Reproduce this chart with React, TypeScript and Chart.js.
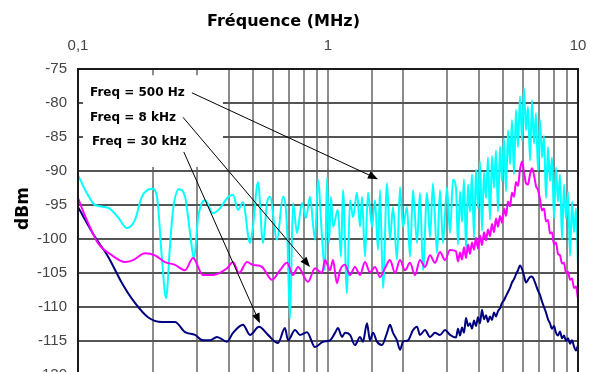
import React, { useEffect, useRef } from "react";
import { Chart, registerables } from "chart.js";

Chart.register(...registerables);

// ---------- data ----------
const xTickValues = [0.1, 1, 10];
const xTickLabels = ["0,1", "1", "10"];
const yMin = -120;
const yMax = -75;
const yStep = 5;

const xTitle = "Fréquence (MHz)";
const yTitle = "dBm";

const noteLabels = ["Freq = 500 Hz", "Freq = 8 kHz", "Freq = 30 kHz"];

// high frequency sample grid (MHz), shared by the three traces
const hfFreq = [
  3.251, 3.311, 3.373, 3.436, 3.499, 3.565, 3.631, 3.698, 3.767, 3.837,
  3.908, 3.981, 4.055, 4.13, 4.207, 4.285, 4.365, 4.446, 4.529, 4.613,
  4.699, 4.786, 4.875, 4.966, 5.058, 5.152, 5.248, 5.346, 5.445, 5.546,
  5.649, 5.754, 5.861, 5.97, 6.081, 6.194, 6.31, 6.427, 6.546, 6.668,
  6.792, 6.918, 7.047, 7.178, 7.311, 7.447, 7.586, 7.727, 7.87, 8.017,
  8.166, 8.318, 8.472, 8.63, 8.79, 8.954, 9.12, 9.29, 9.462, 9.638,
  9.817, 10,
];

// Freq = 500 Hz (cyan)
const cyanFreq = [
  0.1, 0.1076, 0.117, 0.132, 0.1445, 0.157, 0.169, 0.18, 0.198, 0.207,
  0.2168, 0.225, 0.2333, 0.24, 0.2535, 0.268, 0.2805, 0.291, 0.302, 0.313,
  0.3221, 0.3467, 0.3698, 0.3945, 0.4169, 0.4365, 0.4571, 0.4875, 0.5012, 0.5248,
  0.5495, 0.5702, 0.5861, 0.6252, 0.6607, 0.6855, 0.7047, 0.7244, 0.7516, 0.787,
  0.8166, 0.8472, 0.8872, 0.912, 0.9462, 0.9727,
  0.9908, 1.009, 1.028, 1.047, 1.096, 1.127, 1.148, 1.191, 1.225, 1.259,
  1.306, 1.343, 1.368, 1.406, 1.445, 1.5, 1.542, 1.585, 1.614, 1.66,
  1.722, 1.77, 1.82, 1.888, 1.941, 1.995, 2.07, 2.128, 2.188, 2.27,
  2.333, 2.399, 2.489, 2.559, 2.63, 2.729, 2.805, 2.884, 2.992, 3.076,
  3.162,
  ...hfFreq,
];
const cyanDbm = [
  -90.6, -93.0, -95.0, -95.4, -96.8, -98.4, -97.2, -93.8, -92.6, -93.8,
  -103.0, -108.7, -101.0, -95.7, -92.7, -93.8, -99.0, -102.9, -97.0, -94.7,
  -94.3, -96.2, -95.5, -94.0, -93.5, -95.7, -94.6, -100.6, -98.2, -91.6,
  -100.6, -94.7, -93.8, -100.1, -93.8, -98.2, -111.7, -94.7, -99.1, -94.7,
  -96.9, -93.8, -100.1, -91.3, -99.7, -104.6,
  -91.0, -100.6, -93.8, -98.2, -95.7, -102.6, -92.8, -108.0, -94.3, -96.8,
  -93.2, -98.2, -93.8, -102.6, -93.2, -98.2, -94.3, -101.6, -92.8, -107.2,
  -91.8, -100.1, -95.3, -103.1, -92.4, -98.2, -95.3, -102.6, -92.8, -100.6,
  -93.2, -104.6, -93.2, -99.7, -91.8, -102.1, -92.8, -100.6, -92.4, -99.1,
  -91.3,
  -92.5, -100.8, -93.0, -97.5, -91.2, -101.5, -92.0, -96.0, -90.5, -99.8,
  -89.8, -95.5, -88.6, -98.8, -90.2, -94.0, -88.0, -97.2, -87.8, -92.5,
  -87.0, -96.0, -86.4, -91.5, -85.2, -93.0, -84.0, -89.0, -82.5, -90.5,
  -81.0, -86.5, -79.0, -85.5, -77.8, -84.0, -80.5, -88.5, -79.6, -86.0,
  -81.5, -90.0, -82.5, -88.0, -84.8, -94.0, -86.5, -91.5, -88.0, -97.0,
  -89.5, -94.5, -90.5, -100.0, -92.0, -97.0, -93.0, -102.5, -94.5, -99.0,
  -95.5, -104.0,
];

// Freq = 8 kHz (magenta)
const magentaFreq = [
  0.1, 0.1096, 0.1202, 0.1368, 0.1542, 0.166, 0.1854, 0.2032, 0.2228, 0.2443,
  0.268, 0.2884, 0.3162, 0.3467, 0.3945, 0.4169, 0.4406, 0.4742, 0.5012, 0.5445,
  0.597, 0.6427, 0.6855, 0.7244, 0.7586, 0.8318, 0.8872, 0.9462, 0.973, 1.019,
  1.047, 1.086, 1.117, 1.169, 1.225, 1.282, 1.343, 1.406, 1.472, 1.542,
  1.614, 1.69, 1.77, 1.854, 1.941, 2.032, 2.128, 2.228, 2.333, 2.443,
  2.559, 2.679, 2.805, 2.938, 3.076,
  ...hfFreq,
];
const magentaDbm = [
  -94.0, -97.6, -100.6, -102.4, -103.4, -103.1, -102.1, -102.4, -103.4, -103.8,
  -104.6, -102.8, -105.3, -105.3, -104.3, -103.4, -105.0, -103.4, -103.8, -104.1,
  -106.0, -104.6, -103.5, -105.3, -104.1, -106.3, -104.3, -105.0, -103.1, -104.6,
  -103.1, -106.5, -104.6, -103.8, -105.3, -104.1, -105.3, -103.4, -104.9, -104.1,
  -105.6, -104.3, -103.1, -105.0, -103.1, -104.6, -103.5, -105.3, -103.1, -104.1,
  -102.4, -103.5, -101.9, -103.1, -101.6,
  -101.8, -103.3, -102.0, -103.0, -101.2, -102.8, -100.8, -102.2, -100.5, -101.6,
  -99.8, -101.4, -99.5, -100.9, -99.0, -100.2, -98.6, -99.6, -97.8, -99.0,
  -97.0, -98.2, -96.6, -97.6, -95.5, -96.6, -94.5, -95.2, -93.2, -93.8,
  -91.6, -92.2, -89.8, -88.6, -90.2, -91.8, -92.0, -90.5, -89.6, -90.6,
  -92.2, -92.8, -94.2, -95.8, -95.5, -97.4, -97.2, -99.2, -99.0, -100.8,
  -100.5, -102.2, -102.4, -103.6, -103.5, -105.0, -104.8, -106.0, -105.8, -107.2,
  -107.0, -108.8,
];

// Freq = 30 kHz (navy)
const navyFreq = [
  0.1, 0.117, 0.132, 0.15, 0.169, 0.1905, 0.2168, 0.2443, 0.268, 0.2938,
  0.3162, 0.3373, 0.3597, 0.3945, 0.4169, 0.4571, 0.4875, 0.5297, 0.5754, 0.631,
  0.673, 0.6918, 0.738, 0.7727, 0.824, 0.8872, 0.955, 1.019, 1.067, 1.096,
  1.138, 1.169, 1.225, 1.282, 1.343, 1.38, 1.432, 1.472, 1.514, 1.57,
  1.644, 1.722, 1.77, 1.82, 1.888, 1.941, 1.995, 2.089, 2.188, 2.27,
  2.333, 2.443, 2.559, 2.679, 2.805, 2.938, 3.076,
  ...hfFreq,
];
const navyDbm = [
  -95.3, -99.7, -102.6, -106.5, -109.4, -111.5, -112.2, -112.2, -113.7, -114.1,
  -114.9, -114.9, -114.4, -115.1, -113.8, -112.6, -114.1, -112.9, -114.1, -115.3,
  -113.1, -114.9, -113.4, -114.1, -113.7, -115.9, -115.1, -114.9, -113.8, -113.1,
  -114.4, -113.8, -114.1, -115.6, -114.4, -115.1, -112.4, -114.9, -113.8, -115.1,
  -115.6, -113.8, -112.6, -113.8, -114.9, -116.3, -115.1, -114.9, -113.4, -112.9,
  -114.1, -113.4, -114.4, -113.8, -114.1, -113.4, -114.1,
  -114.5, -113.2, -114.2, -113.0, -113.8, -111.6, -112.8, -112.4, -113.2, -112.0,
  -112.8, -111.5, -112.4, -110.4, -111.8, -111.2, -112.2, -111.4, -111.9, -110.8,
  -111.4, -110.6, -110.2, -109.4, -109.0, -108.4, -107.8, -107.2, -106.4, -105.9,
  -105.2, -104.6, -103.9, -104.4, -105.4, -106.4, -106.0, -105.6, -105.5, -106.0,
  -106.8, -107.6, -108.2, -109.2, -110.0, -110.8, -111.8, -112.4, -113.2, -112.8,
  -113.8, -114.2, -113.6, -114.6, -114.2, -115.0, -114.6, -115.4, -114.9, -115.8,
  -116.4, -115.6,
];

// annotation anchors in data units (MHz, dBm)
const noteTextPos = [
  [0.1117, -79.0],
  [0.1117, -82.6],
  [0.1138, -86.2],
];
const arrowFrom = [
  [0.2855, -78.5],
  [0.263, -82.1],
  [0.265, -87.2],
];
const arrowTo = [
  [1.585, -91.2],
  [0.847, -104.1],
  [0.534, -112.4],
];
const noteBox = [0.1047, 0.38, -75.9, -89.4];

// ---------- component ----------
export default function App() {
  const ref = useRef<HTMLCanvasElement>(null);

  useEffect(() => {
    const canvas = ref.current;
    if (!canvas) return;
    const toXY = (fs: number[], ds: number[]) => fs.map((f, i) => ({ x: f, y: ds[i] }));
    const isDecade = (v: number) => {
      const l = Math.log10(v);
      return Math.abs(l - Math.round(l)) < 1e-6;
    };

    const overlay = {
      id: "overlay",
      beforeDatasetsDraw(chart: any) {
        const { ctx, scales } = chart;
        const x0 = scales.x.getPixelForValue(noteBox[0]);
        const x1 = scales.x.getPixelForValue(noteBox[1]);
        const y0 = scales.y.getPixelForValue(noteBox[2]);
        const y1 = scales.y.getPixelForValue(noteBox[3]);
        ctx.save();
        ctx.fillStyle = "#ffffff";
        ctx.fillRect(x0, y0, x1 - x0, y1 - y0);
        ctx.restore();
      },
      afterDatasetsDraw(chart: any) {
        const { ctx, scales, chartArea } = chart;
        ctx.save();
        ctx.strokeStyle = "#1a1a1a";
        ctx.lineWidth = 2;
        ctx.strokeRect(chartArea.left, chartArea.top, chartArea.right - chartArea.left, chartArea.bottom - chartArea.top);
        ctx.strokeStyle = "#000";
        ctx.fillStyle = "#000";
        ctx.lineWidth = 1;
        for (let i = 0; i < arrowFrom.length; i++) {
          const ax = scales.x.getPixelForValue(arrowFrom[i][0]);
          const ay = scales.y.getPixelForValue(arrowFrom[i][1]);
          const bx = scales.x.getPixelForValue(arrowTo[i][0]);
          const by = scales.y.getPixelForValue(arrowTo[i][1]);
          const ang = Math.atan2(by - ay, bx - ax);
          const hl = 10;
          const hw = 4;
          const cx = bx - hl * Math.cos(ang);
          const cy = by - hl * Math.sin(ang);
          ctx.beginPath();
          ctx.moveTo(ax, ay);
          ctx.lineTo(cx, cy);
          ctx.stroke();
          ctx.beginPath();
          ctx.moveTo(bx, by);
          ctx.lineTo(cx + hw * Math.sin(ang), cy - hw * Math.cos(ang));
          ctx.lineTo(cx - hw * Math.sin(ang), cy + hw * Math.cos(ang));
          ctx.closePath();
          ctx.fill();
        }
        ctx.font = "bold 12px 'DejaVu Sans'";
        ctx.textAlign = "left";
        ctx.textBaseline = "alphabetic";
        for (let i = 0; i < noteLabels.length; i++) {
          const tx = scales.x.getPixelForValue(noteTextPos[i][0]);
          const ty = scales.y.getPixelForValue(noteTextPos[i][1]);
          ctx.fillText(noteLabels[i], tx, ty);
        }
        ctx.restore();
      },
      afterDraw(chart: any) {
        const { ctx } = chart;
        ctx.save();
        ctx.fillStyle = "#000";
        ctx.font = "bold 16px 'DejaVu Sans'";
        ctx.textAlign = "center";
        ctx.textBaseline = "alphabetic";
        ctx.fillText(xTitle, 283.5, 26);
        ctx.translate(28, 208.5);
        ctx.rotate(-Math.PI / 2);
        ctx.font = "bold 17px 'DejaVu Sans'";
        ctx.fillText(yTitle, 0, 0);
        ctx.restore();
      },
    };

    const chart = new Chart(canvas, {
      type: "line",
      data: {
        datasets: [
          {
            label: noteLabels[1],
            data: toXY(magentaFreq, magentaDbm),
            borderColor: "#ff00ff",
            borderWidth: 2,
            pointRadius: 0,
            cubicInterpolationMode: "monotone",
          },
          {
            label: noteLabels[0],
            data: toXY(cyanFreq, cyanDbm),
            borderColor: "#00ffff",
            borderWidth: 2,
            pointRadius: 0,
            cubicInterpolationMode: "monotone",
          },
          {
            label: noteLabels[2],
            data: toXY(navyFreq, navyDbm),
            borderColor: "#000080",
            borderWidth: 2,
            pointRadius: 0,
            cubicInterpolationMode: "monotone",
          },
        ],
      },
      options: {
        responsive: false,
        animation: false,
        devicePixelRatio: 1,
        parsing: false,
        normalized: true,
        events: [],
        layout: { padding: { left: 0, top: 0, right: 15, bottom: 25 } },
        plugins: {
          legend: { display: false },
          tooltip: { enabled: false },
          title: { display: false },
        },
        scales: {
          x: {
            type: "logarithmic",
            position: "top",
            min: 0.1,
            max: 10,
            afterFit: (s: any) => {
              s.height = 69;
              s.paddingLeft = 0;
              s.paddingRight = 0;
            },
            grid: { color: "#8c8c8c", lineWidth: 2, drawTicks: false },
            border: { display: true, color: "#111", width: 2 },
            ticks: {
              autoSkip: false,
              maxRotation: 0,
              padding: 14,
              color: "#444",
              font: { family: "'Liberation Sans', Arial, sans-serif", size: 15 },
              callback: (v: any) => {
                const val = Number(v);
                if (!isDecade(val)) return "";
                const idx = xTickValues.findIndex((t) => Math.abs(Math.log10(t) - Math.log10(val)) < 1e-6);
                return idx >= 0 ? xTickLabels[idx] : "";
              },
            },
          },
          y: {
            type: "linear",
            position: "left",
            min: yMin,
            max: yMax,
            afterFit: (s: any) => {
              s.width = 78;
              s.paddingTop = 0;
              s.paddingBottom = 0;
            },
            grid: { color: "#555555", lineWidth: 2, drawTicks: false },
            border: { display: true, color: "#333", width: 2 },
            ticks: {
              stepSize: yStep,
              padding: 11,
              color: "#444",
              font: { family: "'Liberation Sans', Arial, sans-serif", size: 15 },
              callback: (v: any) => String(v),
            },
          },
        },
      },
      plugins: [overlay],
    } as any);

    return () => chart.destroy();
  }, []);

  return (
    <div
      style={{
        position: "fixed",
        left: 0,
        top: 0,
        width: 593,
        height: 372,
        overflow: "hidden",
        background: "#ffffff",
      }}
    >
      <canvas ref={ref} width={593} height={400} style={{ display: "block", width: 593, height: 400 }} />
    </div>
  );
}
